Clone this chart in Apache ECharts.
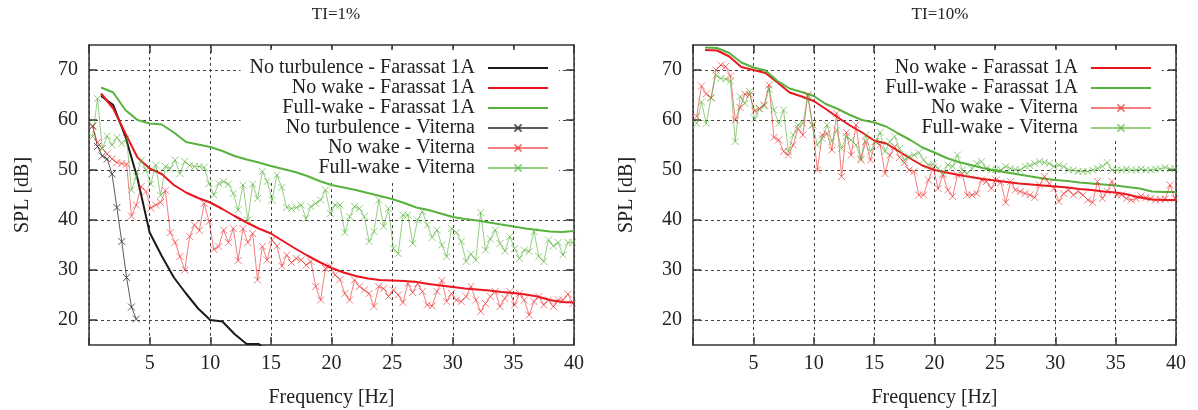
<!DOCTYPE html>
<html>
<head>
<meta charset="utf-8">
<script src="https://cdn.jsdelivr.net/npm/echarts@6/dist/echarts.min.js"></script>
<style>
  html, body { margin: 0; background: #fff; }
  #chart { width: 1198px; height: 410px; }
</style>
</head>
<body>
<div id="chart"></div>
<script>
// frequencies of the Farassat curves (Hz)
const farassatFreq = [1, 2, 3, 4, 5, 6, 7, 8, 9, 10, 11, 12, 13, 14, 15, 16, 17, 18, 19, 20,
  21, 22, 23, 24, 25, 26, 27, 28, 29, 30, 31, 32, 33, 34, 35, 36, 37, 38, 39, 40]

// frequencies of the Viterna points (Hz)
const viternaFreq = [
  0.3, 0.7, 1.1, 1.5, 1.9, 2.3, 2.7, 3.1, 3.5, 3.9,
  4.3, 4.7, 5.1, 5.5, 5.9, 6.3, 6.7, 7.1, 7.5, 7.9,
  8.3, 8.7, 9.1, 9.5, 9.9, 10.3, 10.7, 11.1, 11.5, 11.9,
  12.3, 12.7, 13.1, 13.5, 13.9, 14.3, 14.7, 15.1, 15.5, 15.9,
  16.3, 16.7, 17.1, 17.5, 17.9, 18.3, 18.7, 19.1, 19.5, 19.9,
  20.3, 20.7, 21.1, 21.5, 21.9, 22.3, 22.7, 23.1, 23.5, 23.9,
  24.3, 24.7, 25.1, 25.5, 25.9, 26.3, 26.7, 27.1, 27.5, 27.9,
  28.3, 28.7, 29.1, 29.5, 29.9, 30.3, 30.7, 31.1, 31.5, 31.9,
  32.3, 32.7, 33.1, 33.5, 33.9, 34.3, 34.7, 35.1, 35.5, 35.9,
  36.3, 36.7, 37.1, 37.5, 37.9, 38.3, 38.7, 39.1, 39.5, 39.9]

const yTicks = [20, 30, 40, 50, 60, 70]

// ---- TI = 1% ----
const noTurbFarassat1 = [64.8, 63, 56.7, 48.3, 37.5, 32.8, 28.5, 25.3, 22.3, 20, 19.7, 17.2, 15.2, 15.2, 13]
const noWakeFarassat1 = [65.3, 62.3, 57.3, 52.5, 50.3, 49.2, 47, 45.5, 44.4, 43.5, 42.2, 40.8, 39.5, 38.3, 37.3,
  35.8, 34.3, 32.9, 31.6, 30.4, 29.5, 28.8, 28.3, 28, 27.9, 27.8, 27.6, 27.2, 26.9, 26.6,
  26.3, 26.1, 25.9, 25.6, 25.4, 25.1, 24.7, 24, 23.6, 23.5]
const fullWakeFarassat1 = [66.5, 65.5, 62, 60, 59.3, 59.1, 57.5, 55.6, 55.1, 54.6, 53.8, 52.8, 52.1, 51.5, 50.8,
  50.2, 49.6, 48.8, 47.8, 47, 46.5, 46, 45.4, 44.8, 44.2, 43.4, 42.5, 42, 41.3, 40.6,
  40.2, 39.9, 39.5, 39.1, 38.7, 38.3, 38, 37.7, 37.6, 37.8]
const noTurbViterna1 = [58.8, 54.7, 52.8, 52.2, 49.2, 42.5, 35.7, 28.5, 22.6, 20.2]
const noWakeViterna1 = [
  58.7, 55.5, 54.3, 53.2, 52.2, 51.5, 51.3, 51.2, 40.8, 43,
  46.7, 45.7, 42.4, 43, 43.5, 45.9, 37.5, 35.5, 32.7, 30,
  36.7, 39, 37.9, 43.3, 39.7, 34.1, 34.7, 38, 35.5, 38.3,
  31.9, 38.3, 35.5, 37.3, 28, 34.7, 32, 36, 34.8, 30.8,
  33, 31.5, 32.3, 32, 31, 31.7, 26.7, 24, 30.3, 30.8,
  29, 28.1, 25.3, 24, 28, 26.7, 26, 25.3, 22.7, 26.7,
  26.3, 24.7, 26, 25, 23.5, 27.3, 25.5, 27.3, 25.7, 23,
  22.8, 25.7, 27.9, 23.7, 25.3, 24, 23.7, 24.7, 26.7, 24,
  21.7, 23.3, 24.7, 25.7, 22.7, 24.3, 25.7, 23, 25.3, 24,
  21, 23.7, 24.7, 23, 24, 22.7, 24, 24, 25.2, 23.3]
const fullWakeViterna1 = [
  56.7, 64.3, 54.3, 56.8, 55, 56.5, 55.3, 56.3, 46, 48.7,
  51.9, 50, 47.2, 51, 44.9, 50.7, 50.3, 52, 49.3, 51.7,
  50.9, 50.7, 50.7, 50.5, 47.3, 45, 47.3, 47.7, 47.2, 45.3,
  42, 47, 40, 47.2, 44.3, 49.7, 47.7, 44, 49, 46.5,
  42.5, 42.3, 42.5, 43, 40.3, 42.7, 43.3, 44, 46, 41.3,
  43, 43, 37.5, 40.7, 42.7, 42.3, 40.7, 35.7, 37.7, 44,
  38.7, 42.3, 34.3, 33.3, 41, 41, 35.3, 40, 41.7, 39,
  36.5, 38, 35, 32.7, 38.3, 37.5, 35.7, 31.7, 33.2, 32,
  41.5, 34, 36.2, 38, 35.3, 33.8, 36.7, 34.3, 32.3, 34,
  33.7, 37.7, 32.7, 31.7, 36, 34.8, 35.5, 33, 35.5, 35.5]

// ---- TI = 10% ----
const noWakeFarassat2 = [74, 73.9, 72.7, 70.6, 70, 69.4, 67.5, 65.5, 64.7, 63.8, 62.2, 60.5, 58.9, 57.5, 55.9,
  55.3, 53.8, 52.3, 50.9, 50, 49.5, 49, 48.6, 48.2, 47.9, 47.6, 47.3, 47.1, 46.9, 46.7,
  46.5, 46.2, 46, 45.7, 45.5, 45.1, 44.5, 44.1, 44, 44]
const fullWakeFarassat2 = [74.5, 74.4, 73.4, 71.5, 70.5, 69.9, 67.8, 66.3, 65.6, 64.8, 63.2, 62.2, 61, 60, 59.5,
  58.7, 57.3, 56, 54.5, 53.5, 52.4, 51.6, 51, 50.4, 49.9, 49.5, 49.1, 48.7, 48.3, 48,
  47.8, 47.5, 47.3, 47.1, 46.9, 46.6, 46.3, 45.7, 45.6, 45.6]
const noWakeViterna2 = [
  60.7, 66.8, 65.2, 64.4, 70, 71, 70.7, 68.8, 60, 62.5,
  65.2, 65.1, 61.8, 62.3, 63, 67, 56.5, 56, 53.7, 53,
  55, 58.3, 57, 65, 59, 50, 57, 57.3, 54, 61.3,
  48.7, 57.5, 53, 59, 52, 55.7, 52, 55.7, 55, 49.3,
  53, 54.7, 52.5, 51.5, 50, 49.7, 45, 45, 48, 50.5,
  46.3, 49, 46, 44.7, 49, 49.3, 45, 45, 45.3, 48,
  47.7, 46.3, 48, 47.5, 43.5, 47.7, 46, 45.7, 45.3, 45,
  44.5, 47, 48.7, 47.3, 46.3, 43.7, 45.3, 46, 45, 45.7,
  45, 44, 43.5, 47.7, 44.3, 45.7, 47.7, 45, 45, 44.3,
  44, 44.3, 44.8, 44.5, 44.3, 44, 44.1, 44.2, 47, 44.3]
const fullWakeViterna2 = [
  59.3, 63.6, 59.3, 64.5, 69, 68.3, 68.2, 67.8, 55.7, 64.7,
  63.3, 65.7, 60.2, 62.2, 62.8, 66.2, 62, 59.3, 62, 53.7,
  57, 59, 59.3, 64.8, 59, 55, 56.3, 59, 55.7, 58,
  54.3, 56.7, 56, 55, 52.3, 57, 53.7, 55.7, 57.5, 53.7,
  55.7, 56.7, 54.3, 52, 52.7, 53, 53.5, 52, 51, 51.2,
  50.3, 49.3, 51, 50.7, 53, 50, 49.3, 50.3, 51.3, 51.7,
  50.3, 50, 50.1, 50, 50.7, 50.3, 50.1, 50, 50.7, 50.9,
  51.3, 51.7, 51.5, 51.3, 50.7, 51, 50.7, 50, 50, 49.7,
  49.7, 49.7, 50, 50.3, 50.7, 51.5, 50, 50, 50, 50.2,
  50, 50, 50.2, 50, 50, 50.2, 50.2, 50.5, 50.2, 50.3]

const FONT = 'Liberation Serif'
const TEXT = '#222'
const CROSS = 'path://M0,0L10,10M10,0L0,10'

const BLACK = '#1a1a1a'
const RED = '#e8161e'
const GREEN = '#58b23e'
const BLACK_V = 'rgba(50,50,50,0.8)'
const RED_V = 'rgba(236,40,40,0.6)'
const GREEN_V = 'rgba(80,175,50,0.6)'

const pairs = (xs, ys) => ys.map((y, i) => [xs[i], y])

const frame = { show: true, onZero: false, lineStyle: { color: '#333', width: 1.5 } }
const tick = { show: true, inside: true, length: 8, lineStyle: { color: '#333', width: 1.5 } }
const gridLine = { show: true, lineStyle: { color: '#444', width: 1, type: [3, 3] } }
const labelText = { fontFamily: FONT, fontSize: 20, color: TEXT }

function xAxes(gridIndex) {
  return [
    {
      type: 'value', gridIndex, min: 0, max: 40, interval: 5, position: 'bottom',
      axisLine: frame, axisTick: tick, splitLine: gridLine,
      axisLabel: { ...labelText, margin: 9, formatter: v => (v === 0 ? '' : v) },
      name: 'Frequency [Hz]', nameLocation: 'middle', nameGap: 43,
      nameTextStyle: { fontFamily: FONT, fontSize: 20, color: TEXT }
    },
    {
      type: 'value', gridIndex, min: 0, max: 40, interval: 5, position: 'top',
      axisLine: frame, axisTick: tick, splitLine: { show: false }, axisLabel: { show: false }
    }
  ]
}

function yAxes(gridIndex) {
  return [
    {
      type: 'value', gridIndex, min: 15, max: 75, position: 'left',
      axisLine: frame, axisTick: { ...tick, customValues: yTicks }, splitLine: gridLine,
      axisLabel: { ...labelText, margin: 11, customValues: yTicks },
      name: 'SPL [dB]', nameLocation: 'middle', nameGap: 56,
      nameTextStyle: { fontFamily: FONT, fontSize: 20, color: TEXT }
    },
    {
      type: 'value', gridIndex, min: 15, max: 75, position: 'right',
      axisLine: frame, axisTick: { ...tick, customValues: yTicks },
      splitLine: { show: false }, axisLabel: { show: false }
    }
  ]
}

function farassat(name, freq, values, color, axis) {
  return {
    name, type: 'line', xAxisIndex: axis, yAxisIndex: axis,
    data: pairs(freq, values), symbol: 'none', lineStyle: { color, width: 2 },
    itemStyle: { color }, z: 3
  }
}

function viterna(name, values, color, axis) {
  return {
    name, type: 'line', xAxisIndex: axis, yAxisIndex: axis,
    data: pairs(viternaFreq, values), symbol: CROSS, symbolSize: 7,
    lineStyle: { color, width: 1 },
    itemStyle: { color, borderColor: color, borderWidth: 1 }, z: 4
  }
}

// Farassat entries show only the line, no marker
const lineOnly = name => ({ name, itemStyle: { opacity: 0 } })

function legend(names, right) {
  return {
    data: names, orient: 'vertical', align: 'right', right, top: 50, z: 1,
    itemWidth: 60, itemHeight: 9, itemGap: 0, padding: [8, 10, 2, 9],
    backgroundColor: '#fff', selectedMode: false,
    textStyle: { fontFamily: FONT, fontSize: 20, color: TEXT, lineHeight: 20, padding: [0, 8, 0, 0] }
  }
}

const chart = echarts.init(document.getElementById('chart'), null, { renderer: 'canvas' })

chart.setOption({
  animation: false,
  backgroundColor: '#fff',
  title: [
    { text: 'TI=1%', left: 331, top: 1, textAlign: 'center', textStyle: { fontFamily: FONT, fontSize: 17, fontWeight: 'normal', color: TEXT } },
    { text: 'TI=10%', left: 935, top: 1, textAlign: 'center', textStyle: { fontFamily: FONT, fontSize: 17, fontWeight: 'normal', color: TEXT } }
  ],
  grid: [
    { left: 89, top: 45, width: 485, height: 300, outerBoundsMode: 'none' },
    { left: 693, top: 45, width: 483, height: 300, outerBoundsMode: 'none' }
  ],
  legend: [
    legend([lineOnly('No turbulence - Farassat 1A'), lineOnly('No wake - Farassat 1A'), lineOnly('Full-wake - Farassat 1A'),
      'No turbulence - Viterna', 'No wake - Viterna', 'Full-wake - Viterna'], 639),
    legend([lineOnly('No wake - Farassat 1A'), lineOnly('Full-wake - Farassat 1A'), 'No wake - Viterna', 'Full-wake - Viterna'], 36)
  ],
  xAxis: [...xAxes(0), ...xAxes(1)],
  yAxis: [...yAxes(0), ...yAxes(1)],
  series: [
    farassat('No turbulence - Farassat 1A', farassatFreq, noTurbFarassat1, BLACK, 0),
    farassat('No wake - Farassat 1A', farassatFreq, noWakeFarassat1, RED, 0),
    farassat('Full-wake - Farassat 1A', farassatFreq, fullWakeFarassat1, GREEN, 0),
    viterna('No turbulence - Viterna', noTurbViterna1, BLACK_V, 0),
    viterna('No wake - Viterna', noWakeViterna1, RED_V, 0),
    viterna('Full-wake - Viterna', fullWakeViterna1, GREEN_V, 0),
    farassat('No wake - Farassat 1A', farassatFreq, noWakeFarassat2, RED, 2),
    farassat('Full-wake - Farassat 1A', farassatFreq, fullWakeFarassat2, GREEN, 2),
    viterna('No wake - Viterna', noWakeViterna2, RED_V, 2),
    viterna('Full-wake - Viterna', fullWakeViterna2, GREEN_V, 2)
  ]
})
</script>
</body>
</html>
